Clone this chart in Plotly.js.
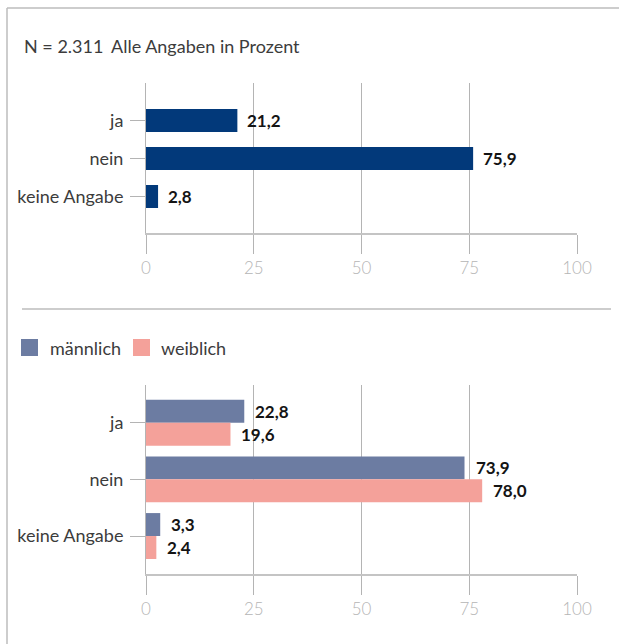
<!DOCTYPE html>
<html>
<head>
<meta charset="utf-8">
<script src="https://cdn.plot.ly/plotly-3.0.1.min.js"></script>
<style>html,body{margin:0;padding:0;background:#fff;}#chart{width:619px;height:644px;}</style>
</head>
<body>
<div id="chart"></div>
<script>
const categories = ["ja", "nein", "keine Angabe"];
const totalValues = [21.2, 75.9, 2.8];
const maleValues = [22.8, 73.9, 3.3];
const femaleValues = [19.6, 78.0, 2.4];
const seriesNames = ["männlich", "weiblich"];
const xTicks = [0, 25, 50, 75, 100];
const headerLeft = "N = 2.311";
const headerRight = "Alle Angaben in Prozent";

const W = 619, H = 644;
const px = v => v / W;
const py = v => 1 - v / H;
const FONT = 'Lato, Roboto, sans-serif';
const NAVY = '#02397a', MALE = '#6c7ca2', FEMALE = '#f4a19a';
const GRID = '#b4b4b4', AXIS = '#c4c4c4';
const fmt = v => v.toFixed(1).replace('.', ',');

const traces = [
  {type:'bar', orientation:'h', y:categories, x:totalValues, xaxis:'x', yaxis:'y',
   marker:{color:NAVY}, width:0.605, hoverinfo:'none', showlegend:false},
  {type:'bar', orientation:'h', y:categories, x:maleValues, xaxis:'x2', yaxis:'y2', name:seriesNames[0],
   marker:{color:MALE}, width:0.405, offset:-0.405, hoverinfo:'none', showlegend:false},
  {type:'bar', orientation:'h', y:categories, x:femaleValues, xaxis:'x2', yaxis:'y2', name:seriesNames[1],
   marker:{color:FEMALE}, width:0.405, offset:0, hoverinfo:'none', showlegend:false}
];

function xAxis(anchor){
  return {domain:[px(146), px(577)], range:[0,100], anchor:anchor, fixedrange:true,
    tickvals:xTicks, ticktext:xTicks.map(String), showgrid:true, gridcolor:GRID, gridwidth:1,
    zeroline:false, showline:true, linecolor:AXIS, linewidth:2,
    ticks:'outside', ticklen:19, tickcolor:GRID, tickwidth:1,
    tickfont:{family:FONT, size:17, color:'#b5b5b5', weight:300}};
}
function yAxis(anchor, dom, range){
  return {domain:dom, anchor:anchor, type:'category', categoryorder:'array', categoryarray:categories,
    range:range, fixedrange:true, showgrid:false, zeroline:false,
    showline:true, linecolor:GRID, linewidth:1,
    ticks:'outside', ticklen:15, tickcolor:GRID, tickwidth:1, ticklabelstandoff:3,
    tickfont:{family:FONT, size:18, color:'#3c3c3c', weight:400}};
}

const txtFont = {family:FONT, size:18, color:'#3c3c3c', weight:400};
const annotations = [];
annotations.push({xref:'paper', yref:'paper', x:px(22), y:py(46), xanchor:'left', yanchor:'middle',
  text:headerLeft, showarrow:false, font:txtFont});
annotations.push({xref:'paper', yref:'paper', x:px(109), y:py(46), xanchor:'left', yanchor:'middle',
  text:headerRight, showarrow:false, font:txtFont});
annotations.push({xref:'paper', yref:'paper', x:px(48), y:py(348), xanchor:'left', yanchor:'middle',
  text:seriesNames[0], showarrow:false, font:txtFont});
annotations.push({xref:'paper', yref:'paper', x:px(159), y:py(348), xanchor:'left', yanchor:'middle',
  text:seriesNames[1], showarrow:false, font:txtFont});

const valFont = {family:FONT, size:17, color:'#141414', weight:'bold'};
categories.forEach((c,i)=>{
  annotations.push({xref:'x', yref:'y', x:totalValues[i], y:c, xanchor:'left', yanchor:'middle', xshift:8,
    text:fmt(totalValues[i]), showarrow:false, font:valFont});
  annotations.push({xref:'x2', yref:'y2', x:maleValues[i], y:c, xanchor:'left', yanchor:'middle', xshift:9, yshift:11.5,
    text:fmt(maleValues[i]), showarrow:false, font:valFont});
  annotations.push({xref:'x2', yref:'y2', x:femaleValues[i], y:c, xanchor:'left', yanchor:'middle', xshift:9, yshift:-11.5,
    text:fmt(femaleValues[i]), showarrow:false, font:valFont});
});

const shapes = [
  {type:'line', xref:'paper', yref:'paper', x0:px(7), x1:px(619), y0:py(8), y1:py(8), line:{color:'#bdbdbd', width:1.5}},
  {type:'line', xref:'paper', yref:'paper', x0:px(7), x1:px(7), y0:py(8), y1:py(644), line:{color:'#bdbdbd', width:1.5}},
  {type:'line', xref:'paper', yref:'paper', x0:px(22), x1:px(611), y0:py(309), y1:py(309), line:{color:'#bdbdbd', width:1.5}},
  {type:'rect', xref:'paper', yref:'paper', x0:px(21), x1:px(38), y0:py(339), y1:py(356), fillcolor:MALE, line:{width:0}},
  {type:'rect', xref:'paper', yref:'paper', x0:px(133), x1:px(150), y0:py(339), y1:py(356), fillcolor:FEMALE, line:{width:0}}
];

const layout = {
  width:W, height:H, margin:{l:0,r:0,t:0,b:0}, paper_bgcolor:'#fff', plot_bgcolor:'rgba(0,0,0,0)',
  showlegend:false, barmode:'overlay', separators:',.',
  font:{family:FONT},
  xaxis:xAxis('y'), yaxis:yAxis('x', [py(233), py(83)], [2.96, -0.987]),
  xaxis2:xAxis('y2'), yaxis2:yAxis('x2', [py(574), py(385)], [2.67, -0.665]),
  annotations:annotations, shapes:shapes
};

Plotly.newPlot('chart', traces, layout, {displayModeBar:false, staticPlot:true});
</script>
</body>
</html>
